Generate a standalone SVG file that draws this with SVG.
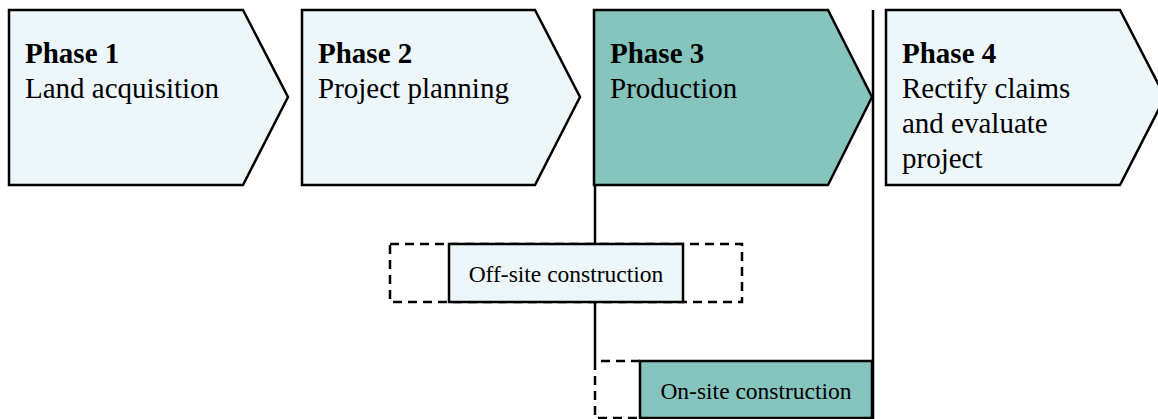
<svg xmlns="http://www.w3.org/2000/svg" width="1158" height="419" viewBox="0 0 1158 419">
  <style>
    .light { fill: #EDF6F9; stroke: #000; stroke-width: 2.5; stroke-linejoin: miter; }
    .teal { fill: #86C4BE; stroke: #000; stroke-width: 2.5; stroke-linejoin: miter; }
    .dash { fill: none; stroke: #000; stroke-width: 2.5; stroke-dasharray: 9 6; }
    .line { fill: none; stroke: #000; stroke-width: 2.5; }
    text { font-family: "Liberation Serif", "Times New Roman", serif; fill: #000; }
    .title { font-size: 29px; font-weight: bold; }
    .desc { font-size: 29px; }
    .small { font-size: 23.5px; }
  </style>
  <rect width="1158" height="419" fill="#fff"/>

  <!-- connectors -->
  <g id="connectors">
    <line class="line" x1="595" y1="185" x2="595" y2="244"/>
    <line class="line" x1="595" y1="302" x2="595" y2="361"/>
    <line class="line" x1="873" y1="10" x2="873" y2="419"/>
  </g>

  <g id="phase1">
    <polygon class="light" points="9,10 243,10 288,97 243,185 9,185"/>
    <text class="title" x="25" y="63">Phase 1</text>
    <text class="desc" x="25" y="98">Land acquisition</text>
  </g>

  <g id="phase2">
    <polygon class="light" points="302,10 535,10 580,97 535,185 302,185"/>
    <text class="title" x="318" y="63">Phase 2</text>
    <text class="desc" x="318" y="98">Project planning</text>
  </g>

  <g id="phase3">
    <polygon class="teal" points="594,10 828,10 872,97 828,185 594,185"/>
    <text class="title" x="610" y="63">Phase 3</text>
    <text class="desc" x="610" y="98">Production</text>
  </g>

  <g id="phase4">
    <polygon class="light" points="886,10 1120,10 1165,97 1120,185 886,185"/>
    <text class="title" x="902" y="63">Phase 4</text>
    <text class="desc" x="902" y="98">Rectify claims</text>
    <text class="desc" x="902" y="133">and evaluate</text>
    <text class="desc" x="902" y="168">project</text>
  </g>

  <g id="offsite">
    <rect class="dash" x="390" y="244" width="352" height="58"/>
    <rect class="light" x="449" y="244" width="234" height="58"/>
    <text class="small" x="566" y="282" text-anchor="middle">Off-site construction</text>
  </g>

  <g id="onsite">
    <polyline class="dash" points="640,361 595,361 595,418 640,418"/>
    <rect class="teal" x="640" y="361" width="232" height="57"/>
    <text class="small" x="756" y="399" text-anchor="middle">On-site construction</text>
  </g>
</svg>
